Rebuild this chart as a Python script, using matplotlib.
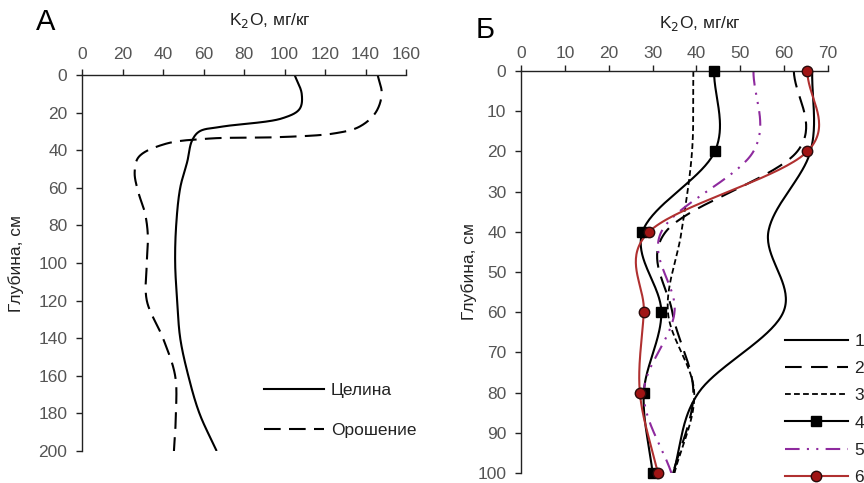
import numpy as np
import matplotlib
matplotlib.use("Agg")
import matplotlib.pyplot as plt
from matplotlib.lines import Line2D

plt.rcParams['font.family'] = ['Liberation Sans', 'DejaVu Sans']

# ---- Panel A: K2O profile, virgin vs irrigated soil ----
depth_virgin = [0, 10, 18, 23, 27.5, 30, 35, 46, 60, 80, 100, 120, 140, 160, 180, 200]
k2o_virgin = [105, 108.5, 107.5, 99, 69, 58, 54.3, 52, 48.5, 46.5, 46, 47, 48.5, 52.5, 58, 66.5]

depth_irrig = [0, 10, 20, 27.5, 31, 33, 33.8, 36.7, 43.6, 52, 63, 73, 85, 100, 120, 140, 160, 180, 200]
k2o_irrig = [146, 148, 145, 137, 125, 99, 63, 41, 28, 26, 28, 31, 32.5, 32, 32, 40, 46, 46.4, 45.4]

labels_a = ["Целина", "Орошение"]

# ---- Panel B: six profiles ----
depth_b = [0, 20, 40, 60, 80, 100]
k2o_b1 = [66.4, 66.0, 56.4, 59.8, 40.5, 34.7]
k2o_b2 = [62.2, 63.0, 33.0, 34.5, 39.3, 34.7]
k2o_b3 = [39.3, 39.0, 36.6, 33.5, 39.5, 35.0]
k2o_b4 = [44.0, 44.2, 27.7, 32.0, 28.0, 30.0]
k2o_b5 = [53.0, 53.0, 32.0, 35.0, 28.0, 34.3]
k2o_b6 = [65.3, 65.3, 29.2, 28.0, 27.1, 31.2]
labels_b = ["1", "2", "3", "4", "5", "6"]

xticks_a = [0, 20, 40, 60, 80, 100, 120, 140, 160]
yticks_a = [0, 20, 40, 60, 80, 100, 120, 140, 160, 180, 200]
xticks_b = [0, 10, 20, 30, 40, 50, 60, 70]
yticks_b = [0, 10, 20, 30, 40, 50, 60, 70, 80, 90, 100]


def smooth(xs, ys, sx=1.0, sy=1.0, alpha=0.0, n=40):
    """Catmull-Rom curve through the given points (scaled space)."""
    P = np.column_stack([np.asarray(xs, float) * sx, np.asarray(ys, float) * sy])
    P = np.vstack([2 * P[0] - P[1], P, 2 * P[-1] - P[-2]])
    out = []
    for i in range(1, len(P) - 2):
        p0, p1, p2, p3 = P[i - 1], P[i], P[i + 1], P[i + 2]
        t0 = 0.0
        t1 = t0 + max(np.linalg.norm(p1 - p0), 1e-9) ** alpha
        t2 = t1 + max(np.linalg.norm(p2 - p1), 1e-9) ** alpha
        t3 = t2 + max(np.linalg.norm(p3 - p2), 1e-9) ** alpha
        t = np.linspace(t1, t2, n)[:, None]
        a1 = (t1 - t) / (t1 - t0) * p0 + (t - t0) / (t1 - t0) * p1
        a2 = (t2 - t) / (t2 - t1) * p1 + (t - t1) / (t2 - t1) * p2
        a3 = (t3 - t) / (t3 - t2) * p2 + (t - t2) / (t3 - t2) * p3
        b1 = (t2 - t) / (t2 - t0) * a1 + (t - t0) / (t2 - t0) * a2
        b2 = (t3 - t) / (t3 - t1) * a2 + (t - t1) / (t3 - t1) * a3
        c = (t2 - t) / (t2 - t1) * b1 + (t - t1) / (t2 - t1) * b2
        out.append(c if i == 1 else c[1:])
    C = np.vstack(out)
    return C[:, 0] / sx, C[:, 1] / sy


TICK_COLOR = '#555555'
TEXT_COLOR = '#222222'
TICK_LEN = 4.5


def style_axis(ax, xlim, ylim, xticks, yticks, label_gap_px):
    """Top x axis and left y axis; x tick labels sit label_gap_px above the spine."""
    ax.set_xlim(*xlim)
    ax.set_ylim(*ylim)
    ax.set_xticks(xticks)
    ax.set_yticks(yticks)
    ax.tick_params(axis='x', top=True, bottom=False, labeltop=False,
                   labelbottom=False, direction='out', length=TICK_LEN,
                   width=1.0, color='#222222')
    for s in ('right', 'bottom'):
        ax.spines[s].set_visible(False)
    for s in ('top', 'left'):
        ax.spines[s].set_linewidth(1.0)
        ax.spines[s].set_color('#222222')
    ax.tick_params(axis='y', direction='out', length=TICK_LEN, width=1.0,
                   color='#222222', labelsize=12.5, labelcolor=TICK_COLOR, pad=6)
    trans = ax.get_xaxis_transform()
    for v in xticks:
        ax.annotate(f"{v:g}", xy=(v, 1.0), xycoords=trans,
                    xytext=(0, label_gap_px * 72 / 100), textcoords='offset points',
                    ha='center', va='baseline', fontsize=12.5, color=TICK_COLOR,
                    annotation_clip=False)


fig = plt.figure(figsize=(8.64, 4.83), dpi=100)

# ---------------- Panel A ----------------
axA = fig.add_axes([82 / 864, 1 - 451 / 483, 324 / 864, 376 / 483])
style_axis(axA, (0, 160), (200, 0), xticks_a, yticks_a, label_gap_px=16.5)

sxA, syA = 324 / 160, 376 / 200
x, y = smooth(k2o_virgin, depth_virgin, sxA, syA, alpha=0.5)
axA.plot(x, y, color='black', lw=1.5, solid_capstyle='butt')
x, y = smooth(k2o_irrig, depth_irrig, sxA, syA, alpha=0.5)
axA.plot(x, y, color='black', lw=1.5, dashes=(8, 4))

hA = [Line2D([], [], color='black', lw=1.5),
      Line2D([], [], color='black', lw=1.5, dashes=(8, 4))]
fig.legend(hA, labels_a, loc='upper left', bbox_to_anchor=(264 / 864, 1 - 383 / 483),
           frameon=False, fontsize=12.5, handlelength=3.45, handletextpad=0.4,
           labelspacing=1.4, labelcolor=TEXT_COLOR, borderpad=0,
           borderaxespad=0)

fig.text(270 / 864, 1 - 20 / 483, "K$_2$O, мг/кг", ha='center', va='center',
         fontsize=12.5, color=TEXT_COLOR)
fig.text(16 / 864, 1 - 263 / 483, "Глубина, см", ha='center', va='center',
         rotation=90, fontsize=12.5, color=TEXT_COLOR)
fig.text(46 / 864, 1 - 22 / 483, "А", ha='center', va='center', fontsize=21,
         color='black')

# ---------------- Panel B ----------------
axB = fig.add_axes([521 / 864, 1 - 473 / 483, 307 / 864, 402 / 483])
style_axis(axB, (0, 70), (100, 0), xticks_b, yticks_b, label_gap_px=13)

series_b = [k2o_b1, k2o_b2, k2o_b3, k2o_b4, k2o_b5, k2o_b6]
styles_b = [
    dict(color='black', lw=1.5),
    dict(color='black', lw=1.5, dashes=(8, 4.5)),
    dict(color='black', lw=1.3, dashes=(3.2, 1.8)),
    dict(color='black', lw=1.5),
    dict(color='#8E2A9E', lw=1.5, dashes=(7, 3.5, 1, 3.5, 1, 3.5)),
    dict(color='#B03030', lw=1.5),
]
markers_b = [None, None, None,
             dict(marker='s', ms=7.5, mfc='black', mec='black', mew=1.0),
             None,
             dict(marker='o', ms=7.5, mfc='#A01414', mec='#2a0a0a', mew=1.0)]

handles_b = []
for vals, st, mk in zip(series_b, styles_b, markers_b):
    x, y = smooth(vals, depth_b)
    axB.plot(x, y, **st)
    if mk is not None:
        axB.plot(vals, depth_b, ls='none', zorder=4, clip_on=False, **mk)
        handles_b.append(Line2D([], [], **st, **mk))
    else:
        handles_b.append(Line2D([], [], **st))

leg = fig.legend(handles_b, labels_b, loc='upper left',
                 bbox_to_anchor=(785 / 864, 1 - 334 / 483), frameon=False,
                 fontsize=12.5, handlelength=3.6, handletextpad=0.4,
                 labelspacing=0.69, labelcolor=TEXT_COLOR, borderpad=0,
                 borderaxespad=0, numpoints=1)

fig.text(700 / 864, 1 - 23.5 / 483, "K$_2$O, мг/кг", ha='center', va='center',
         fontsize=12.5, color=TEXT_COLOR)
fig.text(469 / 864, 1 - 272 / 483, "Глубина, см", ha='center', va='center',
         rotation=90, fontsize=12.5, color=TEXT_COLOR)
fig.text(485 / 864, 1 - 30 / 483, "Б", ha='center', va='center', fontsize=21,
         color='black')

fig.savefig("out.png", dpi=100)
